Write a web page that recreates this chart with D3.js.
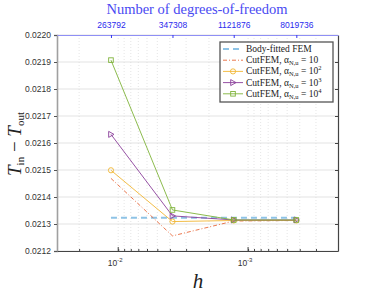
<!DOCTYPE html>
<html>
<head>
    <meta charset="UTF-8" />
    <title>convergence</title>
    <style>
        body { margin: 0; padding: 0; background: white; }
    </style>
</head>
<body>
    <div id="chart"></div>

    <script src="https://cdnjs.cloudflare.com/ajax/libs/d3/7.8.5/d3.min.js"></script>
    <script>
        // mesh sizes and dofs
        const hValues = [0.01137, 0.00382, 0.00129, 0.000425]
        const dofLabels = ['263792', '347308', '1121876', '8019736']
        const yTicks = [0.0212, 0.0213, 0.0214, 0.0215, 0.0216, 0.0217, 0.0218, 0.0219, 0.0220]

        const bodyFitted = [0.021323, 0.021323, 0.021323, 0.021323]
        const cut10 = [0.021469, 0.021256, 0.021311, 0.021313]
        const cut100 = [0.021499, 0.021309, 0.021313, 0.021313]
        const cut1000 = [0.021632, 0.02133, 0.021315, 0.021315]
        const cut10000 = [0.021907, 0.021352, 0.021315, 0.021315]

        const SANS = "'Liberation Sans', Arial, sans-serif"
        const SERIF = "'Liberation Serif', 'Times New Roman', serif"

        const W = 374, H = 297
        const m = { left: 57, right: 36, top: 35, bottom: 46 }

        const svg = d3.select('#chart').append('svg')
            .attr('width', W)
            .attr('height', H)

        const x = d3.scaleLog().domain([0.0296, 0.000203]).range([m.left, W - m.right])
        const y = d3.scaleLinear().domain([0.0212, 0.0220]).range([H - m.bottom, m.top])

        // grid
        const minor = []
        for (let e = -4; e <= -1; e++) {
            for (let k = 1; k < 10; k++) {
                const v = k * Math.pow(10, e)
                if (v <= 0.0296 && v >= 0.000203) minor.push(v)
            }
        }
        svg.append('g').selectAll('line')
            .data(minor)
            .join('line')
            .attr('x1', d => x(d)).attr('x2', d => x(d))
            .attr('y1', m.top).attr('y2', H - m.bottom)
            .attr('stroke', '#d4d4d4')
            .attr('stroke-width', 0.6)
            .attr('stroke-dasharray', '1,2')

        svg.append('g').selectAll('line')
            .data(yTicks)
            .join('line')
            .attr('x1', m.left).attr('x2', W - m.right)
            .attr('y1', d => y(d)).attr('y2', d => y(d))
            .attr('stroke', '#dcdcdc')
            .attr('stroke-width', 0.8)

        // axes
        const leftAxis = svg.append('g')
            .attr('transform', `translate(${m.left},0)`)
            .call(d3.axisLeft(y).tickValues(yTicks).tickFormat(d3.format('.4f')).tickSize(3).tickPadding(3))
        leftAxis.select('.domain').attr('stroke', '#a0a0a0').attr('stroke-width', 1.6)
        leftAxis.selectAll('.tick line').attr('stroke', '#555')
        leftAxis.selectAll('.tick text').attr('font-size', 8.5).attr('fill', '#333')
            .style('font-family', SANS)

        const rightAxis = svg.append('g')
            .attr('transform', `translate(${W - m.right},0)`)
            .call(d3.axisLeft(y).tickValues(yTicks).tickFormat('').tickSize(3).tickSizeOuter(0))
        rightAxis.select('.domain').attr('stroke', '#444').attr('stroke-width', 1.2)
        rightAxis.selectAll('.tick line').attr('stroke', '#444')

        const bottomAxis = svg.append('g')
            .attr('transform', `translate(0,${H - m.bottom})`)
            .call(d3.axisTop(x).tickValues(minor).tickFormat('').tickSize(2).tickSizeOuter(0))
        bottomAxis.select('.domain').attr('stroke', '#444').attr('stroke-width', 1.2)
        bottomAxis.selectAll('.tick line').attr('stroke', '#444')

        const majors = [0.01, 0.001]
        svg.append('g').selectAll('line')
            .data(majors)
            .join('line')
            .attr('x1', d => x(d)).attr('x2', d => x(d))
            .attr('y1', H - m.bottom).attr('y2', H - m.bottom - 4)
            .attr('stroke', '#444')
        const majLab = svg.append('g').selectAll('text')
            .data(majors)
            .join('text')
            .attr('x', d => x(d) - 3)
            .attr('y', H - m.bottom + 15)
            .attr('text-anchor', 'middle')
            .attr('font-size', 8.5)
            .attr('fill', '#333')
            .style('font-family', SANS)
        majLab.append('tspan').text('10')
        majLab.append('tspan').attr('dy', -4).attr('font-size', 6).text(d => Math.round(Math.log10(d)))

        const topAxis = svg.append('g')
            .attr('transform', `translate(0,${m.top})`)
            .call(d3.axisTop(x).tickValues(hValues).tickFormat((d, i) => dofLabels[i]).tickSize(-3).tickSizeOuter(0).tickPadding(7))
        topAxis.select('.domain').attr('stroke', '#8f8ff5').attr('stroke-width', 1.2)
        topAxis.selectAll('.tick line').attr('stroke', '#3535f0')
        topAxis.selectAll('.tick text').attr('font-size', 8.5).attr('fill', '#2a2aee')
            .style('font-family', SANS)

        // titles
        svg.append('text')
            .attr('x', 197).attr('y', 14)
            .attr('text-anchor', 'middle')
            .attr('font-size', 14.5)
            .attr('fill', '#4a4af2')
            .style('font-family', SERIF)
            .text('Number of degrees-of-freedom')

        svg.append('text')
            .attr('x', 198).attr('y', 288)
            .attr('text-anchor', 'middle')
            .attr('font-size', 21)
            .attr('font-style', 'italic')
            .attr('fill', '#222')
            .style('font-family', SERIF)
            .text('h')

        const yl = svg.append('text')
            .attr('transform', 'translate(21,144) rotate(-90)')
            .attr('text-anchor', 'middle')
            .attr('font-size', 19)
            .attr('fill', '#222')
            .style('font-family', SERIF)
        yl.append('tspan').attr('font-style', 'italic').text('T')
        yl.append('tspan').attr('font-size', 11).attr('dy', 3).text('in')
        yl.append('tspan').attr('dy', -3).text(' − ')
        yl.append('tspan').attr('font-style', 'italic').text('T')
        yl.append('tspan').attr('font-size', 11).attr('dy', 3).text('out')

        // series
        const series = [
            { name: 'Body-fitted FEM', exp: null, values: bodyFitted, color: '#8ec3e6', width: 2, dash: '6,4', marker: null },
            { name: '10', exp: null, values: cut10, color: '#e8683a', width: 0.9, dash: '4,2,1,2', marker: null },
            { name: '10', exp: '2', values: cut100, color: '#f0b632', width: 0.9, dash: null, marker: 'circle' },
            { name: '10', exp: '3', values: cut1000, color: '#8a3e9a', width: 0.9, dash: null, marker: 'triangle' },
            { name: '10', exp: '4', values: cut10000, color: '#7fb33a', width: 0.9, dash: null, marker: 'square' }
        ]

        const line = d3.line().x((d, i) => x(hValues[i])).y(d => y(d))

        function drawMarker(g, type, cx, cy, color) {
            if (type === 'circle') {
                g.append('circle').attr('cx', cx).attr('cy', cy).attr('r', 2.6)
                    .attr('fill', 'none').attr('stroke', color).attr('stroke-width', 0.9)
            } else if (type === 'triangle') {
                g.append('path').attr('d', `M${cx - 2.3},${cy - 3}L${cx + 3},${cy}L${cx - 2.3},${cy + 3}Z`)
                    .attr('fill', 'none').attr('stroke', color).attr('stroke-width', 0.9)
            } else if (type === 'square') {
                g.append('rect').attr('x', cx - 2.3).attr('y', cy - 2.3).attr('width', 4.6).attr('height', 4.6)
                    .attr('fill', 'none').attr('stroke', color).attr('stroke-width', 0.9)
            }
        }

        series.forEach(s => {
            const g = svg.append('g')
            g.append('path')
                .attr('d', line(s.values))
                .attr('fill', 'none')
                .attr('stroke', s.color)
                .attr('stroke-width', s.width)
                .attr('stroke-dasharray', s.dash)
            if (s.marker) {
                s.values.forEach((v, i) => drawMarker(g, s.marker, x(hValues[i]), y(v), s.color))
            }
        })

        // legend
        const lg = svg.append('g').attr('transform', 'translate(220,42)')
        lg.append('rect').attr('width', 113).attr('height', 60)
            .attr('fill', 'white').attr('stroke', '#555').attr('stroke-width', 1.3)
        series.forEach((s, i) => {
            const yy = 7 + i * 11.2
            lg.append('line').attr('x1', 3).attr('x2', 23).attr('y1', yy).attr('y2', yy)
                .attr('stroke', s.color).attr('stroke-width', s.width)
                .attr('stroke-dasharray', s.dash)
            if (s.marker) drawMarker(lg, s.marker, 13, yy, s.color)
            const t = lg.append('text')
                .attr('x', 26).attr('y', yy + 3)
                .attr('font-size', 9.5).attr('fill', '#222')
                .style('font-family', SERIF)
            if (i === 0) {
                t.text(s.name)
            } else {
                t.append('tspan').text('CutFEM, α')
                t.append('tspan').attr('font-size', 6.5).attr('dy', 2).text('N,u')
                t.append('tspan').attr('dy', -2).text(' = ' + s.name)
                if (s.exp) t.append('tspan').attr('font-size', 6.5).attr('dy', -4).text(s.exp)
            }
        })
    </script>
</body>
</html>
